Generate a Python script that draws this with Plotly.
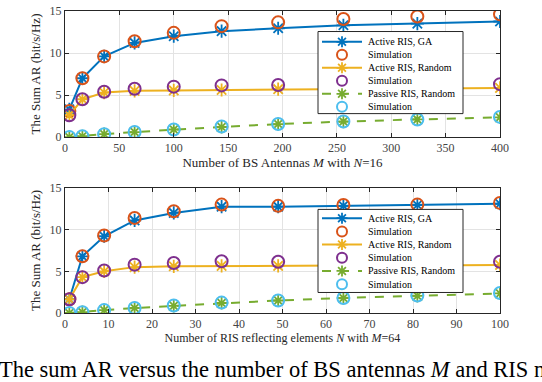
import plotly.graph_objects as go
from plotly.subplots import make_subplots

# data: top panel (vs BS antennas M, N=16)
M_vals = [4, 16, 36, 64, 100, 144, 196, 256, 324, 400]
ga_M = [3.3, 7.0, 9.6, 11.2, 12.0, 12.6, 12.95, 13.3, 13.5, 13.75]
ga_M_sim = [3.1, 7.0, 9.6, 11.4, 12.4, 13.2, 13.65, 14.05, 14.35, 14.6]
rnd_M = [2.6, 4.5, 5.3, 5.5, 5.55, 5.6, 5.7, 5.75, 5.8, 5.85]
rnd_M_sim = [2.6, 4.5, 5.4, 5.75, 6.0, 6.15, 6.2, 6.25, 6.3, 6.3]
pas_M = [0.0, 0.1, 0.35, 0.6, 0.9, 1.2, 1.55, 1.85, 2.1, 2.35]
pas_M_sim = [0.0, 0.1, 0.35, 0.6, 0.9, 1.25, 1.55, 1.85, 2.1, 2.4]

# data: bottom panel (vs RIS elements N, M=64)
N_vals = [1, 4, 9, 16, 25, 36, 49, 64, 81, 100]
ga_N = [1.65, 6.8, 9.2, 11.1, 12.0, 12.75, 12.75, 12.85, 12.95, 13.1]
ga_N_sim = [1.65, 6.8, 9.3, 11.4, 12.2, 13.0, 12.85, 12.95, 13.0, 13.2]
rnd_N = [1.65, 4.3, 5.0, 5.5, 5.6, 5.65, 5.65, 5.7, 5.7, 5.75]
rnd_N_sim = [1.65, 4.3, 5.1, 5.8, 6.0, 6.2, 6.15, 6.15, 6.15, 6.15]
pas_N = [0.0, 0.1, 0.35, 0.6, 0.85, 1.2, 1.5, 1.8, 2.05, 2.35]
pas_N_sim = [0.0, 0.1, 0.35, 0.6, 0.9, 1.25, 1.5, 1.8, 2.1, 2.4]

legend_labels = ["Active RIS, GA", "Simulation", "Active RIS, Random",
                 "Simulation", "Passive RIS, Random", "Simulation"]

BLUE, ORANGE, YELLOW = "#0072BD", "#D95319", "#EDB120"
PURPLE, GREEN, CYAN = "#7E2F8E", "#77AC30", "#4DBEEE"
FONT = "Liberation Serif"
AX = "#262626"

W, H = 542, 382
L, R, T, B = 65, 42, 4, 69
PW, PH = W - L - R, H - T - B

STAR = "M-5.5,0L5.5,0M0,-5.5L0,5.5M-3.9,-3.9L3.9,3.9M-3.9,3.9L3.9,-3.9"

fig = make_subplots(rows=2, cols=1)


def add_panel(row, x, line, sim, color, sim_color, dash="solid"):
    fig.add_trace(go.Scatter(
        x=x, y=line, mode="lines+markers",
        line=dict(color=color, width=2, dash=dash),
        marker=dict(symbol="asterisk-open", size=11, color=color,
                    line=dict(color=color, width=1.8)),
        showlegend=False, hoverinfo="skip"), row=row, col=1)
    fig.add_trace(go.Scatter(
        x=x, y=sim, mode="markers",
        marker=dict(symbol="circle-open", size=12, color=sim_color,
                    line=dict(color=sim_color, width=2)),
        showlegend=False, hoverinfo="skip"), row=row, col=1)


add_panel(1, M_vals, ga_M, ga_M_sim, BLUE, ORANGE)
add_panel(1, M_vals, rnd_M, rnd_M_sim, YELLOW, PURPLE)
add_panel(1, M_vals, pas_M, pas_M_sim, GREEN, CYAN, dash="dash")
add_panel(2, N_vals, ga_N, ga_N_sim, BLUE, ORANGE)
add_panel(2, N_vals, rnd_N, rnd_N_sim, YELLOW, PURPLE)
add_panel(2, N_vals, pas_N, pas_N_sim, GREEN, CYAN, dash="dash")


def px(xp):
    return (xp - L) / PW


def py(yp):
    return (H - B - yp) / PH


# hand-drawn legends (MATLAB style, compact rows)
entries = [(BLUE, "star", "solid"), (ORANGE, "circle", None),
           (YELLOW, "star", "solid"), (PURPLE, "circle", None),
           (GREEN, "star", "dash"), (CYAN, "circle", None)]


def draw_legend(top, bottom, row0, step):
    fig.add_shape(type="rect", xref="paper", yref="paper",
                  x0=px(318), x1=px(463), y0=py(bottom), y1=py(top),
                  line=dict(color=AX, width=1), fillcolor="white", layer="above")
    for i, (c, kind, dash) in enumerate(entries):
        yy = row0 + i * step
        if dash:
            fig.add_shape(type="line", xref="paper", yref="paper",
                          x0=px(322), x1=px(362), y0=py(yy), y1=py(yy),
                          line=dict(color=c, width=2, dash=dash), layer="above")
        if kind == "star":
            fig.add_shape(type="path", xref="paper", yref="paper",
                          xsizemode="pixel", ysizemode="pixel",
                          xanchor=px(342), yanchor=py(yy), path=STAR,
                          line=dict(color=c, width=1.8), layer="above")
        else:
            fig.add_shape(type="circle", xref="paper", yref="paper",
                          xsizemode="pixel", ysizemode="pixel",
                          xanchor=px(342), yanchor=py(yy),
                          x0=-5, x1=5, y0=-5, y1=5,
                          line=dict(color=c, width=2), layer="above")
        fig.add_annotation(x=px(366), y=py(yy), xref="paper", yref="paper",
                           text=legend_labels[i], showarrow=False,
                           xanchor="left", yanchor="middle",
                           font=dict(family=FONT, size=10, color="black"))


draw_legend(25, 109, 35.5, 13.3)
draw_legend(207, 292, 216, 13.5)

axis_common = dict(
    showline=True, linecolor=AX, linewidth=1, mirror="ticks",
    ticks="inside", ticklen=4, tickcolor=AX, showgrid=True,
    gridcolor="#e3e3e3", gridwidth=1, zeroline=False,
    tickfont=dict(family=FONT, size=12, color="#444444"),
)

fig.update_xaxes(**axis_common)
fig.update_yaxes(**axis_common)

fig.update_layout(
    width=W, height=H,
    margin=dict(l=L, r=R, t=T, b=B),
    paper_bgcolor="white", plot_bgcolor="white",
    showlegend=False,
    font=dict(family=FONT, color=AX),
    xaxis=dict(domain=[0, 1], range=[0, 400], tickvals=[0, 50, 100, 150, 200, 250, 300, 350, 400],
               title=dict(text="Number of BS Antennas <i>M</i> with <i>N</i>=16",
                          font=dict(family=FONT, size=13, color=AX), standoff=2)),
    yaxis=dict(domain=[(H - B - 133) / PH, 1], range=[0, 15], tickvals=[0, 5, 10, 15],
               title=dict(text="The Sum AR (bit/s/Hz)",
                          font=dict(family=FONT, size=13, color=AX), standoff=6)),
    xaxis2=dict(domain=[0, 1], range=[0, 100], tickvals=list(range(0, 101, 10)),
                title=dict(text="Number of RIS reflecting elements <i>N</i> with <i>M</i>=64",
                           font=dict(family=FONT, size=12, color=AX), standoff=2)),
    yaxis2=dict(domain=[0, (H - B - 185) / PH], range=[0, 15], tickvals=[0, 5, 10, 15],
                title=dict(text="The Sum AR (bit/s/Hz)",
                           font=dict(family=FONT, size=13, color=AX), standoff=6)),
)

# figure caption, cut at the page edges as in the source
fig.add_annotation(
    x=px(-3), y=py(371), xref="paper", yref="paper",
    text="The sum AR versus the number of BS antennas <i>M</i> and RIS number <i>N</i>.",
    showarrow=False, xanchor="left", yanchor="middle",
    font=dict(family=FONT, size=22.5, color="black"))

fig.write_html("out.html", config={"displayModeBar": False},
               post_script="document.body.style.margin='0';")
